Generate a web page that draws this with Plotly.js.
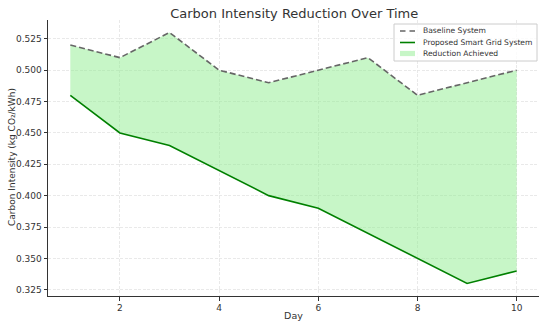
<!DOCTYPE html>
<html><head><meta charset="utf-8">
<script src="https://cdn.plot.ly/plotly-3.0.1.min.js"></script>
<style>html,body{margin:0;padding:0;background:#fff}#chart{width:550px;height:326px}</style>
</head><body><div id="chart"></div>
<script>
const days = [1,2,3,4,5,6,7,8,9,10];
const baseline = [0.52,0.51,0.53,0.50,0.49,0.50,0.51,0.48,0.49,0.50];
const proposed = [0.48,0.45,0.44,0.42,0.40,0.39,0.37,0.35,0.33,0.34];
const xTicks = [2,4,6,8,10];
const yTicks = [0.325,0.350,0.375,0.400,0.425,0.450,0.475,0.500,0.525];
const seriesNames = ['Baseline System','Proposed Smart Grid System','Reduction Achieved'];

const font = 'DejaVu Sans, sans-serif';
const M = {l:48, r:11, t:20, b:30};
const W = 550, H = 326;
const pw = W - M.l - M.r, ph = H - M.t - M.b;
const px = v => (v - M.l) / pw;          // pixel -> paper x
const py = v => (H - M.b - v) / ph;      // pixel -> paper y

const traces = [
  {x: days.concat(days.slice().reverse()), y: baseline.concat(proposed.slice().reverse()),
   type:'scatter', mode:'lines', fill:'toself', fillcolor:'rgba(144,238,144,0.5)',
   line:{width:0, color:'rgba(144,238,144,0.5)'}, name:seriesNames[2], hoverinfo:'skip'},
  {x: days, y: baseline, type:'scatter', mode:'lines', name:seriesNames[0],
   line:{color:'#666666', width:1.6, dash:'6px,3px'}},
  {x: days, y: proposed, type:'scatter', mode:'lines', name:seriesNames[1],
   line:{color:'#008000', width:1.6}}
];

// legend drawn as paper shapes + text
const legY = [31, 42.5, 53.5];
const shapes = [
  {type:'rect', xref:'paper', yref:'paper', x0:px(394), x1:px(537), y0:py(24), y1:py(61),
   fillcolor:'rgba(255,255,255,0.8)', line:{color:'#cccccc', width:1}},
  {type:'line', xref:'paper', yref:'paper', x0:px(400), x1:px(415), y0:py(legY[0]), y1:py(legY[0]),
   line:{color:'#666666', width:1.6, dash:'5.5px,4px'}},
  {type:'line', xref:'paper', yref:'paper', x0:px(400), x1:px(415), y0:py(legY[1]), y1:py(legY[1]),
   line:{color:'#008000', width:1.6}},
  {type:'rect', xref:'paper', yref:'paper', x0:px(400), x1:px(415), y0:py(legY[2]-2.6), y1:py(legY[2]+2.6),
   fillcolor:'rgba(144,238,144,0.5)', line:{width:0}}
];
const annotations = seriesNames.map((n,i)=>({
  text:n, xref:'paper', yref:'paper', x:px(421), y:py(legY[i]), xanchor:'left', yanchor:'middle',
  showarrow:false, font:{size:7.6, color:'#333', family:font}
}));
annotations.push({text:'Carbon Intensity (kg CO₂/kWh)', xref:'paper', yref:'paper', x:px(12), y:py(157),
  xanchor:'center', yanchor:'middle', textangle:-90, showarrow:false, font:{size:9, color:'#333', family:font}});

const grid = {showgrid:true, gridcolor:'#e3e3e3', griddash:'3px,1.5px', gridwidth:0.8};
const layout = {
  width:W, height:H, margin:M,
  paper_bgcolor:'#fff', plot_bgcolor:'#fff',
  font:{family:font, color:'#333', size:9},
  title:{text:'Carbon Intensity Reduction Over Time', font:{size:13, color:'#333', family:font}, x:0.535, xanchor:'center', y:0.958, yanchor:'middle'},
  xaxis:Object.assign({range:[0.55,10.45], tickvals:xTicks, ticktext:xTicks.map(String), showline:true, linecolor:'#333', linewidth:1,
    ticks:'outside', ticklen:3.5, tickcolor:'#333',
    zeroline:false, tickfont:{size:9, color:'#333'}, title:{text:'Day', font:{size:9.5, color:'#333'}, standoff:0}}, grid),
  yaxis:Object.assign({range:[0.32,0.54], tickvals:yTicks, ticktext:yTicks.map(v=>v.toFixed(3)), showline:true, linecolor:'#333', linewidth:1,
    ticks:'outside', ticklen:3.5, tickcolor:'#333',
    zeroline:false, tickfont:{size:9, color:'#333'}}, grid),
  showlegend:false,
  shapes:shapes, annotations:annotations
};
Plotly.newPlot('chart', traces, layout, {displayModeBar:false, staticPlot:true});
</script></body></html>
